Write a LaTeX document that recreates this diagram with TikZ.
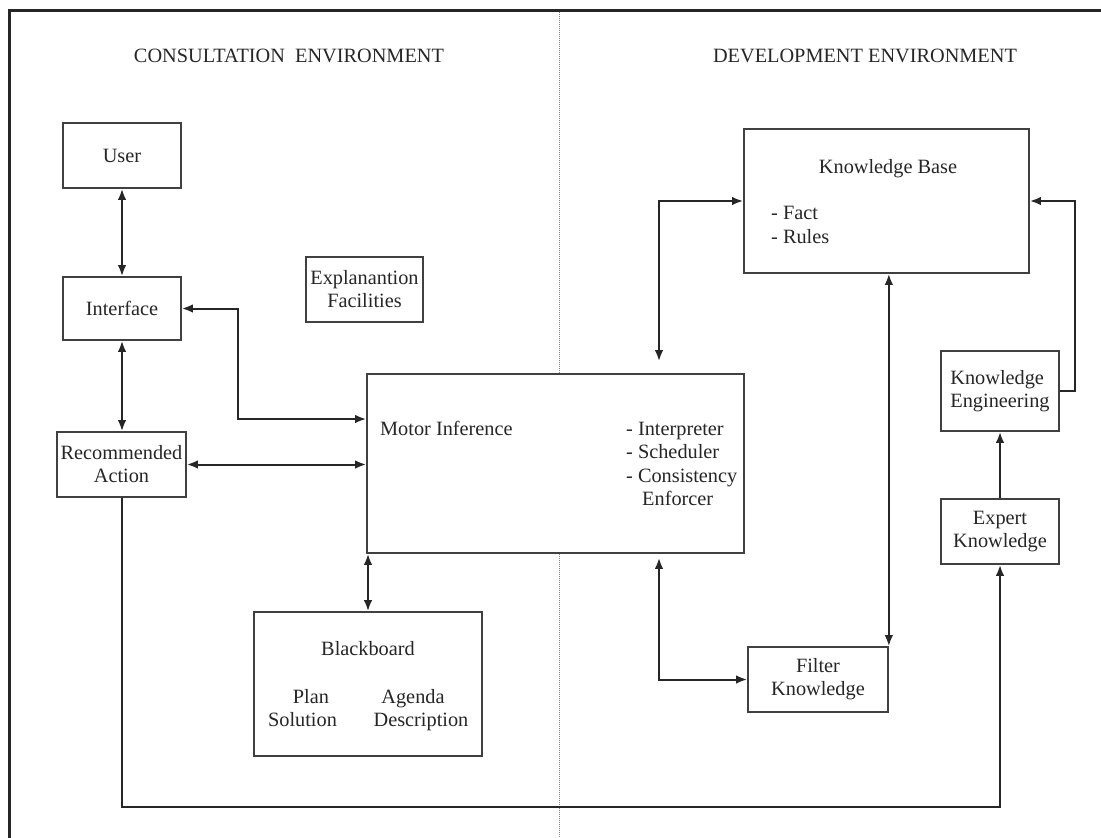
\documentclass[tikz,border=0pt]{standalone}
\usepackage{fontspec}
\setmainfont{Liberation Serif}
\usetikzlibrary{arrows.meta,calc}
\begin{document}
\begin{tikzpicture}[x=1pt,y=-1pt,
  every node/.style={font=\fontsize{20.3}{23}\selectfont, text=black!85},
  box/.style={draw=black!75, line width=1.7pt, fill=white, inner sep=0pt, align=center},
  conn/.style={draw=black!85, line width=2pt},
  biarrow/.style={conn, {Latex[length=11pt,width=8.5pt]}-{Latex[length=11pt,width=8.5pt]}},
  onearrow/.style={conn, -{Latex[length=11pt,width=8.5pt]}},
  txt/.style={inner sep=0pt, anchor=base},
  txtl/.style={inner sep=0pt, anchor=base west}
]
\useasboundingbox (0,0) rectangle (1101,838);
% divider and frame
\draw[black!50, line width=1pt, densely dotted] (559,10) -- (559,838);
\draw[black!85, line width=3pt] (9,838) -- (9,10) -- (1101,10);

% titles
\node[txt] (tcons) at (289,62) {CONSULTATION\ \ ENVIRONMENT};
\node[txt] (tdev) at (865,62) {DEVELOPMENT ENVIRONMENT};

% boxes
\node[box, minimum width=118pt, minimum height=65pt] (user) at (122,155.5) {User};
\node[box, minimum width=118pt, minimum height=63pt] (iface) at (122,308.5) {Interface};
\node[box, minimum width=129pt, minimum height=65pt] (ra) at (121.5,464.5) {Recommended\\Action};
\node[box, minimum width=117pt, minimum height=65pt] (expl) at (364.5,289.5) {Explanantion\\Facilities};
\node[box, minimum width=377pt, minimum height=179pt] (mi) at (555.5,463.5) {};
\node[box, minimum width=228pt, minimum height=144pt] (bb) at (368,684) {};
\node[box, minimum width=285pt, minimum height=144pt] (kb) at (886.5,201) {};
\node[box, minimum width=118pt, minimum height=80pt, align=left] (ke) at (1000,391) {Knowledge\\Engineering};
\node[box, minimum width=118pt, minimum height=65pt] (ek) at (1000,531.5) {Expert\\Knowledge};
\node[box, minimum width=140pt, minimum height=65pt] (fk) at (818,679.5) {Filter\\Knowledge};

% texts inside Motor Inference
\node[txtl] (mit) at (380,435) {Motor Inference};
\node[txtl] (mi1) at (626,435) {- Interpreter};
\node[txtl] (mi2) at (626,458) {- Scheduler};
\node[txtl] (mi3) at (626,482) {- Consistency};
\node[txtl] (mi4) at (642,505) {Enforcer};

% texts inside Knowledge Base
\node[txt] (kbt) at (888,173) {Knowledge Base};
\node[txtl] (kb1) at (771,219) {- Fact};
\node[txtl] (kb2) at (771,243) {- Rules};

% texts inside Blackboard
\node[txt] (bbt) at (368,655) {Blackboard};
\node[txt] (bb1) at (311,703) {Plan};
\node[txt] (bb2) at (302.5,726) {Solution};
\node[txt] (bb3) at (413,703) {Agenda};
\node[txt] (bb4) at (421,726) {Description};

% helper coordinates
\coordinate (e1) at (238,419);
\coordinate (bot) at (0,807);
\coordinate (kbx) at (659,201);
\coordinate (fkx) at (659,679.5);
\coordinate (ker) at (1075,0);

% connectors
\draw[biarrow] (user.south) -- (iface.north);
\draw[biarrow] (iface.south) -- (iface.south |- ra.north);
\draw[biarrow] (iface.east) -| (e1) -- (e1 -| mi.west);
\draw[biarrow] (ra.east) -- (ra.east -| mi.west);
\draw[biarrow] (bb.north) -- (bb.north |- mi.south);
\draw[onearrow] (ra.south) -- (ra.south |- bot) -| (ek.south);
\draw[biarrow, shorten <=12pt] (mi.north -| kbx) -- (kbx) -- (kb.west);
\draw[biarrow, shorten <=4pt] (mi.south -| fkx) -- (fkx) -- (fk.west);
\draw[biarrow] (kb.south -| fk.north east) -- (fk.north east);
\draw[onearrow] (ek.north) -- (ke.south);
\draw[onearrow] (ke.east) -- (ke.east -| ker) |- (kb.east);
\end{tikzpicture}
\end{document}
